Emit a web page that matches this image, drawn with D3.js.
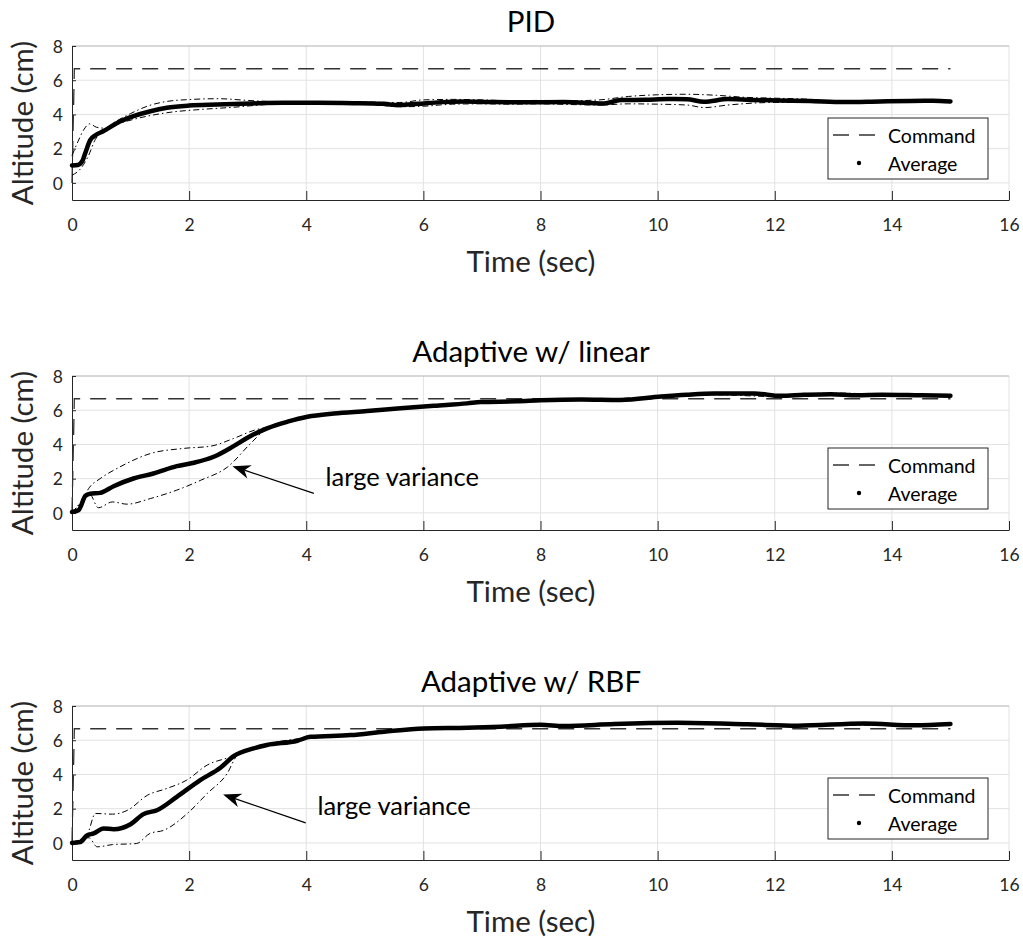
<!DOCTYPE html>
<html>
<head>
<meta charset="utf-8">
<script src="https://cdn.jsdelivr.net/npm/d3@7"></script>
<style>
  body { margin: 0; background: #fff; }
  svg { display: block; }
</style>
</head>
<body>
<svg id="chart" width="1023" height="938"></svg>
<script>
// ---- data -------------------------------------------------------------
const panelTitles = ["PID", "Adaptive w/ linear", "Adaptive w/ RBF"];
const xTicks = [0, 2, 4, 6, 8, 10, 12, 14, 16];
const yTicks = [0, 2, 4, 6, 8];
const legendLabels = ["Command", "Average"];

// reference altitude (step command)
const commandT = [0, 0.04, 15];
const commandY = [0, 6.67, 6.67];

// PID controller runs
const pidAvgT = [0, 0.1, 0.18, 0.23, 0.31, 0.4, 0.54, 0.77, 1.05, 1.34, 1.62, 2.0, 2.48, 3.05, 3.6, 4.2, 4.8, 5.3, 5.6, 5.9, 6.3, 6.7, 7.2, 7.8, 8.4, 9.08, 9.37, 9.8, 10.18, 10.5, 10.79, 11.2, 11.6, 12.05, 12.6, 13.19, 13.8, 14.33, 14.7, 15.0];
const pidAvg  = [1.02, 1.05, 1.3, 1.78, 2.5, 2.78, 3.03, 3.5, 3.9, 4.19, 4.39, 4.52, 4.58, 4.64, 4.68, 4.68, 4.66, 4.62, 4.55, 4.62, 4.72, 4.76, 4.72, 4.71, 4.72, 4.64, 4.84, 4.86, 4.9, 4.89, 4.74, 4.9, 4.85, 4.82, 4.78, 4.72, 4.76, 4.79, 4.8, 4.76];
const pidHiT = [0, 0.1, 0.2, 0.3, 0.42, 0.55, 0.75, 1.0, 1.3, 1.6, 2.0, 2.5, 3.0, 3.5, 4.0, 5.0, 5.6, 6.0, 6.5, 7.0, 7.5, 8.0, 8.5, 9.0, 9.5, 10.0, 10.5, 11.0, 11.5, 12.0, 12.5, 13.0, 14.0, 15.0];
const pidHi  = [1.6, 2.4, 3.1, 3.45, 3.25, 3.2, 3.6, 4.05, 4.5, 4.75, 4.87, 4.92, 4.82, 4.74, 4.72, 4.72, 4.7, 4.85, 4.88, 4.85, 4.8, 4.82, 4.8, 4.85, 5.05, 5.15, 5.18, 5.12, 5.0, 4.95, 4.9, 4.8, 4.8, 4.78];
const pidLoT = [0, 0.14, 0.28, 0.4, 0.5, 0.77, 1.05, 1.62, 2.19, 2.76, 3.33, 4.0, 5.0, 5.6, 6.0, 6.5, 7.0, 7.5, 8.0, 8.5, 9.0, 9.5, 10.0, 10.5, 10.8, 11.2, 12.0, 12.5, 13.0, 14.0, 15.0];
const pidLo  = [0.45, 0.8, 1.58, 2.55, 2.94, 3.42, 3.71, 4.1, 4.29, 4.42, 4.58, 4.64, 4.62, 4.45, 4.48, 4.6, 4.62, 4.6, 4.62, 4.58, 4.55, 4.62, 4.6, 4.55, 4.4, 4.55, 4.7, 4.7, 4.68, 4.75, 4.74];

// adaptive controller, linear basis
const linAvgT = [0, 0.11, 0.23, 0.31, 0.48, 0.71, 1.05, 1.39, 1.79, 2.08, 2.42, 2.76, 3.05, 3.33, 3.68, 4.02, 4.47, 5.04, 5.61, 6.18, 6.75, 6.98, 7.6, 8.0, 8.69, 9.37, 10.06, 10.5, 10.97, 11.65, 12.1, 12.5, 12.96, 13.4, 13.82, 14.5, 15.0];
const linAvg  = [0.05, 0.15, 1.0, 1.12, 1.17, 1.56, 2.01, 2.3, 2.73, 2.93, 3.28, 3.9, 4.49, 4.94, 5.33, 5.62, 5.81, 5.95, 6.11, 6.26, 6.4, 6.48, 6.52, 6.58, 6.63, 6.6, 6.8, 6.9, 6.97, 6.98, 6.84, 6.9, 6.94, 6.88, 6.9, 6.87, 6.85];
const linHiT = [0, 0.15, 0.3, 0.48, 0.82, 1.34, 1.91, 2.37, 2.76, 3.12, 3.4, 4.0, 5.0, 6.0, 7.0, 8.0, 9.0, 10.0, 11.0, 12.0, 13.0, 14.0, 15.0];
const linHi  = [0.05, 0.6, 1.5, 2.0, 2.69, 3.47, 3.77, 3.9, 4.35, 4.84, 5.05, 5.65, 5.98, 6.24, 6.5, 6.6, 6.65, 6.78, 6.97, 6.88, 7.0, 6.92, 6.87];
const linLoT = [0, 0.2, 0.3, 0.45, 0.69, 0.94, 1.34, 1.79, 2.2, 2.66, 3.05, 3.28, 3.6, 4.0, 5.0, 6.0, 7.0, 8.0, 9.0, 10.0, 11.0, 12.0, 13.0, 14.0, 15.0];
const linLo  = [0.0, 0.8, 1.1, 0.3, 0.64, 0.51, 0.84, 1.33, 1.91, 2.69, 4.06, 4.8, 5.2, 5.55, 5.88, 6.18, 6.44, 6.55, 6.58, 6.72, 6.9, 6.8, 6.9, 6.85, 6.83];

// adaptive controller, RBF basis
const rbfAvgT = [0, 0.14, 0.26, 0.37, 0.54, 0.71, 1.0, 1.22, 1.45, 1.79, 2.19, 2.54, 2.76, 3.1, 3.33, 3.85, 4.07, 4.76, 5.33, 6.01, 6.75, 7.32, 8.0, 8.4, 9.26, 10.34, 11.54, 12.39, 13.53, 14.39, 15.0];
const rbfAvg  = [0.0, 0.05, 0.45, 0.55, 0.84, 0.8, 1.09, 1.68, 1.91, 2.69, 3.67, 4.41, 5.07, 5.52, 5.72, 5.97, 6.2, 6.3, 6.5, 6.69, 6.73, 6.79, 6.9, 6.83, 6.95, 7.02, 6.93, 6.85, 6.98, 6.87, 6.95];
const rbfHiT = [0, 0.26, 0.4, 0.69, 0.95, 1.29, 1.62, 1.96, 2.31, 2.71, 3.0, 4.0, 5.0, 6.0, 7.0, 8.0, 9.0, 10.0, 11.0, 12.0, 13.0, 14.0, 15.0];
const rbfHi  = [0.0, 0.5, 1.72, 1.68, 1.91, 2.79, 3.18, 3.67, 4.55, 5.03, 5.45, 6.15, 6.42, 6.7, 6.78, 6.88, 6.9, 7.0, 6.98, 6.88, 6.92, 6.9, 6.95];
const rbfLoT = [0, 0.29, 0.43, 0.69, 1.1, 1.33, 1.57, 1.97, 2.31, 2.65, 2.82, 3.1, 4.0, 5.0, 6.0, 7.0, 8.0, 9.0, 10.0, 11.0, 12.0, 13.0, 14.0, 15.0];
const rbfLo  = [0.0, 0.3, -0.23, -0.1, -0.04, 0.55, 0.74, 1.72, 2.89, 4.06, 5.1, 5.5, 6.1, 6.38, 6.66, 6.74, 6.85, 6.88, 6.96, 6.95, 6.84, 6.9, 6.86, 6.92];

// "large variance" callouts: [tail, tip] of arrow and label anchor (time, altitude)
const noteText = "large variance";
const linArrow = [[4.13, 1.14], [2.74, 2.73]];
const linNote = [4.33, 1.56];
const rbfArrow = [[3.99, 1.17], [2.58, 2.83]];
const rbfNote = [4.19, 1.62];

// ---- layout -----------------------------------------------------------
const FONT = "Lato, 'Open Sans', sans-serif";
const AXIS_COLOR = "#262626";
const plotLeft = 72, plotRight = 1009;
const panelTops = [46, 376, 706];
const plotH = 154;

const svg = d3.select("#chart");
const x = d3.scaleLinear().domain([0, 16]).range([plotLeft, plotRight]);

const panels = [
  { avg: [pidAvgT, pidAvg], hi: [pidHiT, pidHi], lo: [pidLoT, pidLo], arrow: null, note: null },
  { avg: [linAvgT, linAvg], hi: [linHiT, linHi], lo: [linLoT, linLo], arrow: linArrow, note: linNote },
  { avg: [rbfAvgT, rbfAvg], hi: [rbfHiT, rbfHi], lo: [rbfLoT, rbfLo], arrow: rbfArrow, note: rbfNote }
];

panels.forEach((p, i) => {
  const top = panelTops[i];
  const bottom = top + plotH;
  const y = d3.scaleLinear().domain([-1, 8]).range([bottom, top]);
  const g = svg.append("g");

  // grid
  const grid = g.append("g").attr("stroke", "#e2e2e2").attr("stroke-width", 1);
  grid.selectAll("line.vx").data(xTicks.filter(t => t > 0)).join("line")
    .attr("x1", d => x(d)).attr("x2", d => x(d))
    .attr("y1", top).attr("y2", bottom);
  grid.selectAll("line.hy").data(yTicks).join("line")
    .attr("x1", plotLeft).attr("x2", plotRight)
    .attr("y1", d => y(d)).attr("y2", d => y(d))
    .attr("stroke", d => d === 8 ? "#b0b0b0" : "#e2e2e2");

  // axes
  const xAxis = g.append("g")
    .attr("transform", `translate(0,${bottom})`)
    .call(d3.axisBottom(x).tickValues(xTicks).tickSizeInner(-9).tickSizeOuter(0).tickPadding(19));
  const yAxis = g.append("g")
    .attr("transform", `translate(${plotLeft},0)`)
    .call(d3.axisLeft(y).tickValues(yTicks).tickSizeInner(-4).tickSizeOuter(0).tickPadding(9));
  [xAxis, yAxis].forEach(a => {
    a.attr("color", AXIS_COLOR).attr("font-family", FONT).attr("font-size", 17.5);
    a.selectAll("text").attr("fill", AXIS_COLOR);
  });
  xAxis.selectAll(".tick line").attr("stroke-width", 1);
  yAxis.selectAll(".tick text").attr("dy", "0.36em");

  // series
  const line = d3.line().x(d => x(d[0])).y(d => y(d[1])).curve(d3.curveMonotoneX);
  const straight = d3.line().x(d => x(d[0])).y(d => y(d[1]));

  g.append("path").attr("d", straight(d3.zip(commandT, commandY)))
    .attr("fill", "none").attr("stroke", "#333").attr("stroke-width", 1.3)
    .attr("stroke-dasharray", "16,10");

  [p.hi, p.lo].forEach(s => {
    g.append("path").attr("d", line(d3.zip(s[0], s[1])))
      .attr("fill", "none").attr("stroke", "#000").attr("stroke-width", 1)
      .attr("stroke-dasharray", "6,3,1.5,3");
  });

  g.append("path").attr("d", line(d3.zip(p.avg[0], p.avg[1])))
    .attr("fill", "none").attr("stroke", "#000").attr("stroke-width", 4.5)
    .attr("stroke-linecap", "round").attr("stroke-linejoin", "round");

  // callout arrow
  if (p.arrow) {
    const sx = x(p.arrow[0][0]), sy = y(p.arrow[0][1]);
    const tx = x(p.arrow[1][0]), ty = y(p.arrow[1][1]);
    const len = Math.hypot(tx - sx, ty - sy);
    const ux = (tx - sx) / len, uy = (ty - sy) / len;
    const px = -uy, py = ux;
    const L = 18, w = 7;
    const nx = tx - ux * L * 0.7, ny = ty - uy * L * 0.7;
    g.append("line").attr("x1", sx).attr("y1", sy).attr("x2", nx).attr("y2", ny)
      .attr("stroke", "#000").attr("stroke-width", 1.2);
    g.append("path")
      .attr("d", `M${tx},${ty}L${tx - ux * L + px * w},${ty - uy * L + py * w}L${nx},${ny}L${tx - ux * L - px * w},${ty - uy * L - py * w}Z`)
      .attr("fill", "#000");
    g.append("text").attr("x", x(p.note[0])).attr("y", y(p.note[1]))
      .attr("font-family", FONT).attr("font-size", 25.5).attr("fill", "#000")
      .text(noteText);
  }

  // legend
  const lg = g.append("g");
  lg.append("rect").attr("x", 828).attr("y", top + 72).attr("width", 160).attr("height", 61)
    .attr("fill", "#fff").attr("stroke", "#262626").attr("stroke-width", 1);
  lg.append("line").attr("x1", 833).attr("x2", 876).attr("y1", top + 89).attr("y2", top + 89)
    .attr("stroke", "#333").attr("stroke-width", 1.3).attr("stroke-dasharray", "16,10");
  lg.append("circle").attr("cx", 859).attr("cy", top + 117).attr("r", 2.2).attr("fill", "#000");
  lg.selectAll("text").data(legendLabels).join("text")
    .attr("x", 888).attr("y", (d, k) => top + 97 + k * 28)
    .attr("font-family", FONT).attr("font-size", 19.5).attr("fill", "#000")
    .text(d => d);

  // titles and axis labels
  g.append("text").attr("x", 531).attr("y", top - 14.5).attr("text-anchor", "middle")
    .attr("font-family", FONT).attr("font-size", 29.5).attr("fill", "#000")
    .text(panelTitles[i]);
  g.append("text").attr("x", 531).attr("y", bottom + 71.5).attr("text-anchor", "middle")
    .attr("font-family", FONT).attr("font-size", 29.5).attr("fill", AXIS_COLOR)
    .text("Time (sec)");
  g.append("text")
    .attr("transform", `translate(33,${(top + bottom) / 2}) rotate(-90)`)
    .attr("text-anchor", "middle")
    .attr("font-family", FONT).attr("font-size", 29.5).attr("fill", AXIS_COLOR)
    .text("Altitude (cm)");
});
</script>
</body>
</html>
